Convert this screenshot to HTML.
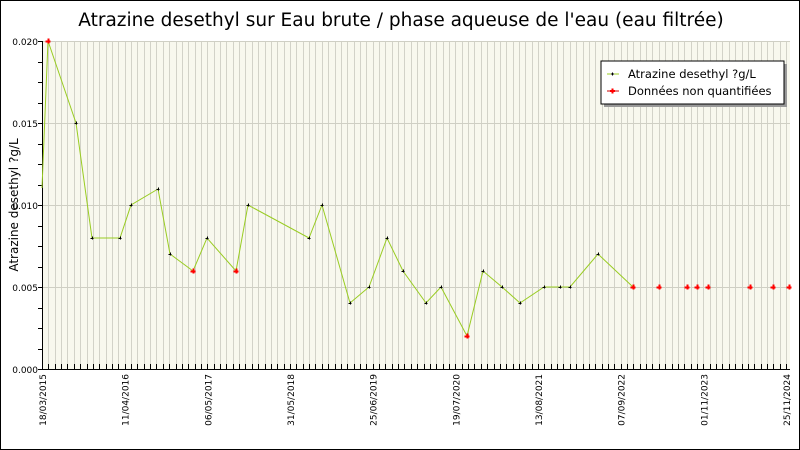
<!DOCTYPE html>
<html><head><meta charset="utf-8"><style>body{margin:0}svg{display:block}</style></head><body>
<svg width="800" height="450" xmlns="http://www.w3.org/2000/svg" font-family="DejaVu Sans, Liberation Sans, sans-serif">
<rect x="0.5" y="0.5" width="799" height="449" fill="#fff" stroke="#000"/>
<text x="401" y="26" text-anchor="middle" font-size="18.5">Atrazine desethyl sur Eau brute / phase aqueuse de l'eau (eau filtrée)</text>
<rect x="42" y="41" width="748" height="328" fill="#f8f8ee"/>
<g id="vg" stroke="#d2d2c8" stroke-width="1"></g>
<g stroke="#cfcfc4">
<line x1="42" y1="41.5" x2="790" y2="41.5"/><line x1="42" y1="123.5" x2="790" y2="123.5"/><line x1="42" y1="205.5" x2="790" y2="205.5"/><line x1="42" y1="287.5" x2="790" y2="287.5"/>
</g>
<g id="ticks" stroke="#000"></g>
<line x1="42.5" y1="41" x2="42.5" y2="370" stroke="#000"/>
<line x1="42" y1="369.5" x2="790" y2="369.5" stroke="#000"/>
<g font-size="9" text-anchor="end">
<text x="38" y="45">0.020</text><text x="38" y="127">0.015</text><text x="38" y="209">0.010</text><text x="38" y="291">0.005</text><text x="38" y="373">0.000</text>
</g>
<text transform="translate(18,205) rotate(-90)" text-anchor="middle" font-size="12">Atrazine desethyl ?g/L</text>
<g font-size="9" text-anchor="end" id="xl"></g>
<polyline fill="none" stroke="#99cc22" stroke-width="1" points="42,188 48,41 76,123 92,238 120,238 131,205 158,189 170,254 193,271 207,238 236,271 248,205 309,238 322,205 350,303 369,287 387,238 403,271 426,303 441,287 467,336 483,271 502,287 520,303 544,287 560,287 570,287 598,254 633,287"/>
<g id="pts"></g>
<rect x="604" y="64" width="183" height="43" fill="#999"/>
<rect x="601" y="61" width="183" height="43" fill="#fff" stroke="#000"/>
<line x1="607" y1="74" x2="619" y2="74" stroke="#99cc22"/>
<path d="M611,74h3M612.5,72.5v3" stroke="#000"/>
<line x1="607" y1="91" x2="619" y2="91" stroke="#cc0000"/>
<path d="M610,91h5M612.5,88.5v5" stroke="#f00" stroke-width="2"/>
<text x="628" y="78" font-size="11.5">Atrazine desethyl ?g/L</text>
<text x="628" y="95" font-size="11.5">Données non quantifiées</text>
<script>
var ns="http://www.w3.org/2000/svg";
var vg=document.getElementById('vg'),tk=document.getElementById('ticks');
var sp=82.67/13;
for(var x=42+sp;x<790;x+=sp){var l=document.createElementNS(ns,'line');var xx=Math.round(x)+.5;l.setAttribute('x1',xx);l.setAttribute('x2',xx);l.setAttribute('y1',41);l.setAttribute('y2',369);vg.appendChild(l);
var t=document.createElementNS(ns,'line');t.setAttribute('x1',xx);t.setAttribute('x2',xx);t.setAttribute('y1',364);t.setAttribute('y2',369);tk.appendChild(t);}
for(var y=41;y<=369;y+=20.5){var t=document.createElementNS(ns,'line');var yy=Math.round(y)+.5;t.setAttribute('x1',38);t.setAttribute('x2',42);t.setAttribute('y1',yy);t.setAttribute('y2',yy);tk.appendChild(t);}
var labs=["18/03/2015","11/04/2016","06/05/2017","31/05/2018","25/06/2019","19/07/2020","13/08/2021","07/09/2022","01/11/2023","25/11/2024"];
var xl=document.getElementById('xl');
labs.forEach(function(s,i){var x=42+i*82.67+4;var t=document.createElementNS(ns,'text');t.setAttribute('transform','translate('+x+',374) rotate(-90)');t.textContent=s;xl.appendChild(t);});
var P=[[48,41,1],[76,123],[92,238],[120,238],[131,205],[158,189],[170,254],[193,271,1],[207,238],[236,271,1],[248,205],[309,238],[322,205],[350,303],[369,287],[387,238],[403,271],[426,303],[441,287],[467,336,1],[483,271],[502,287],[520,303],[544,287],[560,287],[570,287],[598,254],[633,287,1],[659,287,1],[687,287,1],[697,287,1],[708,287,1],[750,287,1],[773,287,1],[789,287,1]];
var pg=document.getElementById('pts');
P.forEach(function(p){var r=p[2];var d=document.createElementNS(ns,'path');var a=r?2.5:1.5;d.setAttribute('d','M'+(p[0]-a)+','+(p[1]+.5)+'h'+(2*a)+'M'+(p[0]+.5)+','+(p[1]-a)+'v'+(2*a));d.setAttribute('stroke',r?'#f00':'#000');d.setAttribute('stroke-width',r?2:1);pg.appendChild(d);});
</script>
</svg>
</body></html>
